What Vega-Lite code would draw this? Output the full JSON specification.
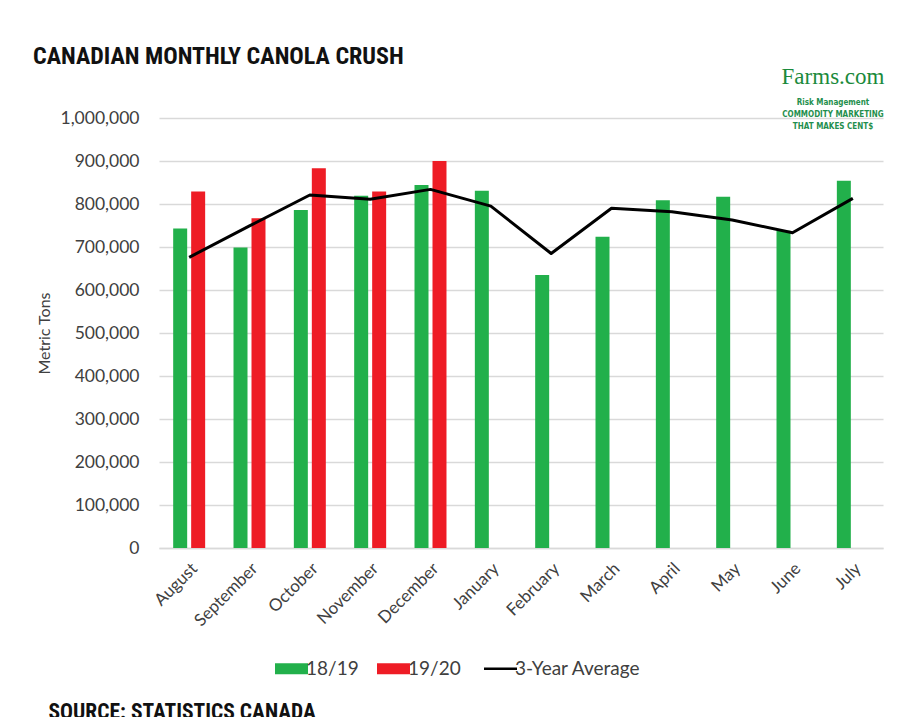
{
  "$schema": "https://vega.github.io/schema/vega-lite/v6.json",
  "autosize": "none",
  "padding": {"left": 159, "top": 118, "right": 742, "bottom": 599},
  "background": "white",
  "config": {"view": {"stroke": null}},
  "title": {
    "text": "Farms.com",
    "subtitle": ["Risk Management", "COMMODITY MARKETING", "THAT MAKES CENT$"],
    "anchor": "end",
    "frame": "bounds",
    "align": "center",
    "dx": -50,
    "dy": 90,
    "font": "Liberation Serif, DejaVu Serif",
    "fontSize": 23,
    "fontWeight": "normal",
    "color": "#1b8a3c",
    "subtitleFont": "DejaVu Sans Condensed, Liberation Sans Narrow",
    "subtitleFontSize": 8,
    "subtitleFontWeight": "bold",
    "subtitleColor": "#1f8f4e",
    "subtitleLineHeight": 12,
    "subtitlePadding": 10
  },
  "datasets": {
    "bars": [
      {"month": "August", "series": "18/19", "tons": 743000},
      {"month": "August", "series": "19/20", "tons": 829000},
      {"month": "September", "series": "18/19", "tons": 699000},
      {"month": "September", "series": "19/20", "tons": 767000},
      {"month": "October", "series": "18/19", "tons": 786000},
      {"month": "October", "series": "19/20", "tons": 883000},
      {"month": "November", "series": "18/19", "tons": 819000},
      {"month": "November", "series": "19/20", "tons": 829000},
      {"month": "December", "series": "18/19", "tons": 844000},
      {"month": "December", "series": "19/20", "tons": 900000},
      {"month": "January", "series": "18/19", "tons": 831000},
      {"month": "February", "series": "18/19", "tons": 635000},
      {"month": "March", "series": "18/19", "tons": 724000},
      {"month": "April", "series": "18/19", "tons": 809000},
      {"month": "May", "series": "18/19", "tons": 817000},
      {"month": "June", "series": "18/19", "tons": 738000},
      {"month": "July", "series": "18/19", "tons": 854000}
    ],
    "avg": [
      {"month": "August", "series": "3-Year Average", "tons": 676000},
      {"month": "September", "series": "3-Year Average", "tons": 749000},
      {"month": "October", "series": "3-Year Average", "tons": 821000},
      {"month": "November", "series": "3-Year Average", "tons": 811000},
      {"month": "December", "series": "3-Year Average", "tons": 834000},
      {"month": "January", "series": "3-Year Average", "tons": 795000},
      {"month": "February", "series": "3-Year Average", "tons": 685000},
      {"month": "March", "series": "3-Year Average", "tons": 790000},
      {"month": "April", "series": "3-Year Average", "tons": 782000},
      {"month": "May", "series": "3-Year Average", "tons": 763000},
      {"month": "June", "series": "3-Year Average", "tons": 733000},
      {"month": "July", "series": "3-Year Average", "tons": 813000}
    ]
  },
  "vconcat": [
    {
      "width": 724,
      "height": 430,
      "title": {
        "text": "CANADIAN MONTHLY CANOLA CRUSH",
        "anchor": "start",
        "frame": "group",
        "dx": -126,
        "offset": 40,
        "font": "Liberation Sans Narrow, Roboto Condensed, DejaVu Sans Condensed",
        "fontSize": 24,
        "fontWeight": "bold",
        "color": "#111111"
      },
      "encoding": {
        "x": {
          "field": "month",
          "type": "nominal",
          "sort": ["August", "September", "October", "November", "December", "January", "February", "March", "April", "May", "June", "July"],
          "scale": {"paddingInner": 0.47, "paddingOuter": 0.235},
          "axis": {
            "title": "SOURCE: STATISTICS CANADA",
            "titleX": -111,
            "titleY": 170,
            "titleAlign": "left",
            "titleAnchor": null,
            "titleBaseline": "alphabetic",
            "titleFont": "Liberation Sans Narrow, Roboto Condensed, DejaVu Sans Condensed",
            "titleFontSize": 21.5,
            "titleFontWeight": "bold",
            "titleColor": "#111111",
            "labelAngle": -45,
            "labelFont": "Lato",
            "labelFontSize": 17,
            "labelColor": "#404040",
            "labelPadding": 12,
            "ticks": false,
            "tickSize": 0,
            "domainColor": "#d9d9d9",
            "domainWidth": 1.5,
            "grid": false
          }
        },
        "y": {
          "field": "tons",
          "type": "quantitative",
          "scale": {"domain": [0, 1000000], "nice": false},
          "axis": {
            "title": "Metric Tons",
            "titleFont": "Lato",
            "titleFontSize": 16,
            "titleFontWeight": "normal",
            "titleColor": "#404040",
            "titleX": -115,
            "titleBaseline": "middle",
            "values": [0, 100000, 200000, 300000, 400000, 500000, 600000, 700000, 800000, 900000, 1000000],
            "format": ",d",
            "labelFont": "Lato",
            "labelFontSize": 17.5,
            "labelColor": "#404040",
            "labelPadding": 20,
            "ticks": false,
            "tickSize": 0,
            "domain": false,
            "gridColor": "#d9d9d9",
            "gridWidth": 1.5
          }
        },
        "color": {
          "field": "series",
          "type": "nominal",
          "scale": {"domain": ["18/19", "19/20", "3-Year Average"], "range": ["#22B04B", "#EE1C25", "#000000"]},
          "legend": {
            "title": null,
            "orient": "none",
            "direction": "horizontal",
            "legendX": 123,
            "legendY": 541,
            "padding": 0,
            "symbolSize": 1089,
            "symbolStrokeWidth": 0,
            "symbolOpacity": 1,
            "labelFont": "Lato",
            "labelFontSize": 19,
            "labelColor": "#404040",
            "labelOffset": 5,
            "columnPadding": 18,
            "encode": {
              "symbols": {
                "update": {
                  "shape": {"signal": "datum.value === '3-Year Average' ? 'M-1,0H1' : 'M-1,-0.333H1V0.333H-1Z'"},
                  "stroke": {"signal": "datum.value === '3-Year Average' ? '#000000' : null"},
                  "strokeWidth": {"signal": "datum.value === '3-Year Average' ? 2.5 : 0"}
                }
              }
            }
          }
        }
      },
      "layer": [
        {
          "data": {"name": "bars"},
          "mark": {"type": "bar"},
          "encoding": {
            "xOffset": {
              "field": "series",
              "type": "nominal",
              "scale": {"domain": ["18/19", "19/20"], "paddingInner": 0.222, "paddingOuter": 0}
            }
          }
        },
        {
          "data": {"name": "avg"},
          "mark": {"type": "line", "strokeWidth": 3, "strokeJoin": "round"},
          "encoding": {}
        }
      ]
    }
  ]
}
